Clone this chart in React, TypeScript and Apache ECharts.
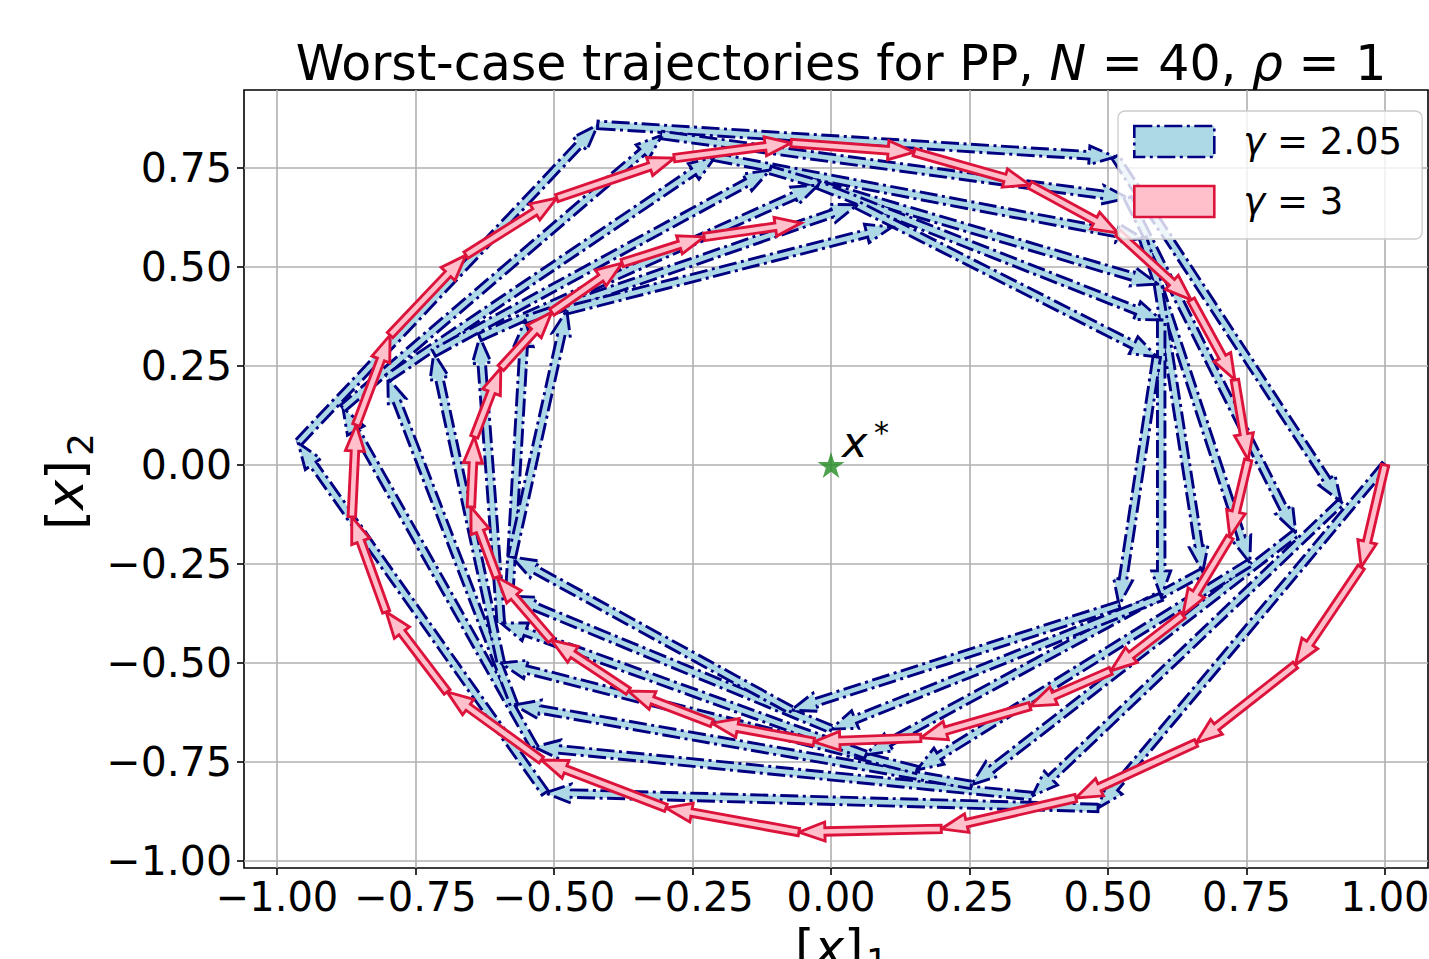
import React, { useEffect, useRef } from "react";
import * as echarts from "echarts";

// Worst-case PP iterates, gamma = 2.05 (x0 ... x40)
const blueX = [1.0, 0.482, -0.516, -0.962, -0.421, 0.513, 0.921, 0.363, -0.536, -0.881, -0.305, 0.536, 0.839, 0.253, -0.572, -0.8, -0.209, 0.563, 0.756, 0.155, -0.596, -0.717, -0.11, 0.59, 0.671, 0.063, -0.596, -0.634, -0.023, 0.596, 0.596, 0.0, -0.581, -0.552, 0.047, 0.588, 0.52, -0.072, -0.576, -0.477, 0.11];
const blueY = [0.0, -0.866, -0.828, 0.056, 0.859, 0.778, -0.093, -0.836, -0.712, 0.144, 0.833, 0.674, -0.172, -0.808, -0.606, 0.22, 0.778, 0.573, -0.247, -0.77, -0.5, 0.283, 0.745, 0.457, -0.27, -0.732, -0.399, 0.323, 0.707, 0.366, -0.333, -0.667, -0.331, 0.366, 0.657, 0.273, -0.354, -0.619, -0.232, 0.391, 0.601];

// Worst-case PP iterates, gamma = 3 (x0 ... x40)
const redX = [1.0, 0.957, 0.838, 0.659, 0.442, 0.199, -0.058, -0.298, -0.523, -0.693, -0.803, -0.865, -0.857, -0.796, -0.659, -0.495, -0.283, -0.072, 0.15, 0.359, 0.518, 0.65, 0.729, 0.753, 0.72, 0.635, 0.505, 0.359, 0.162, -0.031, -0.215, -0.366, -0.505, -0.603, -0.65, -0.644, -0.596, -0.504, -0.377, -0.229, -0.054];
const redY = [0.0, -0.258, -0.505, -0.702, -0.841, -0.919, -0.927, -0.866, -0.745, -0.573, -0.371, -0.131, 0.101, 0.328, 0.53, 0.674, 0.775, 0.813, 0.79, 0.707, 0.586, 0.417, 0.215, 0.013, -0.182, -0.379, -0.52, -0.609, -0.689, -0.699, -0.652, -0.571, -0.442, -0.283, -0.106, 0.071, 0.245, 0.386, 0.51, 0.576, 0.611];

const xTickValues = [-1, -0.75, -0.5, -0.25, 0, 0.25, 0.5, 0.75, 1];
const yTickValues = [-1, -0.75, -0.5, -0.25, 0, 0.25, 0.5, 0.75];
const seriesNames = ["γ = 2.05", "γ = 3"];
const optimum = [[0, 0]];

const X_MIN = -1.0596;
const X_MAX = 1.0776;
const Y_MIN = -1.0177;
const Y_MAX = 0.947;

const FONT = "DejaVu Sans";
const LIGHTBLUE = "#ADD8E6";
const NAVY = "#000080";
const PINK = "#FFC0CB";
const CRIMSON = "#DC143C";
const DASHDOT = [18, 4.5, 3, 4.5];

const SHAFT = 7.5;
const HEAD_W = 19;
const HEAD_L = 26;
const EDGE_W = 2.9;

const fmt = (v: number) => (v < 0 ? "\u2212" : "") + Math.abs(v).toFixed(2);

function toSegments(xs: number[], ys: number[]) {
  const out: number[][] = [];
  for (let i = 0; i < xs.length - 1; i++) out.push([xs[i], ys[i], xs[i + 1], ys[i + 1]]);
  return out;
}

function makeArrowRenderer(fill: string, stroke: string, dash: number[] | null) {
  return (params: any, api: any) => {
    const p0 = api.coord([api.value(0), api.value(1)]);
    const p1 = api.coord([api.value(2), api.value(3)]);
    const dx = p1[0] - p0[0];
    const dy = p1[1] - p0[1];
    const L = Math.hypot(dx, dy) || 1;
    const ux = dx / L, uy = dy / L;
    const nx = -uy, ny = ux;
    const hl = Math.min(HEAD_L, L);
    const b = L - hl;
    const pt = (a: number, s: number) => [p0[0] + ux * a + nx * s, p0[1] + uy * a + ny * s];
    const points = [
      pt(0, SHAFT / 2),
      pt(b, SHAFT / 2),
      pt(b, HEAD_W / 2),
      [p1[0], p1[1]],
      pt(b, -HEAD_W / 2),
      pt(b, -SHAFT / 2),
      pt(0, -SHAFT / 2),
    ];
    const style: any = { fill, stroke, lineWidth: EDGE_W, lineJoin: "miter" };
    if (dash) style.lineDash = dash;
    return { type: "polygon", shape: { points }, style };
  };
}

const starPath =
  "path://M0,-100L22.45,-30.9L95.1,-30.9L36.33,11.8L58.78,80.9L0,38.2L-58.78,80.9L-36.33,11.8L-95.1,-30.9L-22.45,-30.9Z";

export default function App() {
  const ref = useRef<HTMLDivElement>(null);

  useEffect(() => {
    if (!ref.current) return;
    const chart = echarts.init(ref.current, null, { renderer: "svg" });

    const option: any = {
      animation: false,
      backgroundColor: "#ffffff",
      grid: {
        left: 244,
        top: 90,
        width: 1184,
        height: 778,
        show: true,
        borderColor: "#000000",
        borderWidth: 1.6,
        backgroundColor: "transparent",
        containLabel: false,
        outerBoundsMode: "none",
      },
      xAxis: {
        type: "value",
        min: X_MIN,
        max: X_MAX,
        axisLine: { show: false, onZero: false },
        axisTick: { show: true, customValues: xTickValues, length: 7, lineStyle: { color: "#000", width: 1.6 } },
        axisLabel: { customValues: xTickValues, formatter: fmt, fontFamily: FONT, fontSize: 40, color: "#000", margin: 9, hideOverlap: false },
        splitLine: { show: true, lineStyle: { color: "#b0b0b0", width: 1.6 } },
      },
      yAxis: {
        type: "value",
        min: Y_MIN,
        max: Y_MAX,
        axisLine: { show: false, onZero: false },
        axisTick: { show: true, customValues: yTickValues, length: 7, lineStyle: { color: "#000", width: 1.6 } },
        axisLabel: { customValues: yTickValues, formatter: fmt, fontFamily: FONT, fontSize: 41, color: "#000", margin: 12 },
        splitLine: { show: true, lineStyle: { color: "#b0b0b0", width: 1.6 } },
      },
      legend: {
        orient: "vertical",
        left: 1118,
        top: 111,
        padding: [8, 20, 15, 15],
        itemGap: 15,
        itemWidth: 80,
        itemHeight: 31,
        selectedMode: false,
        backgroundColor: "rgba(255,255,255,0.8)",
        borderColor: "#cccccc",
        borderWidth: 1.3,
        borderRadius: 7,
        data: [
          { name: seriesNames[0], icon: "rect", itemStyle: { color: LIGHTBLUE, borderColor: NAVY, borderWidth: 2.6, borderType: DASHDOT } },
          { name: seriesNames[1], icon: "rect", itemStyle: { color: PINK, borderColor: CRIMSON, borderWidth: 2.6 } },
        ],
        formatter: (name: string) => "{g|γ}{t|" + name.slice(1) + "}",
        textStyle: {
          fontFamily: FONT,
          fontSize: 37,
          color: "#000",
          lineHeight: 45,
          rich: {
            g: { fontFamily: FONT, fontSize: 37, fontStyle: "italic", padding: [0, 0, 0, 24], lineHeight: 45, color: "#000" },
            t: { fontFamily: FONT, fontSize: 37, lineHeight: 45, color: "#000" },
          },
        },
      },
      series: [
        {
          type: "custom",
          name: seriesNames[0],
          coordinateSystem: "cartesian2d",
          data: toSegments(blueX, blueY),
          encode: { x: [0, 2], y: [1, 3] },
          renderItem: makeArrowRenderer(LIGHTBLUE, NAVY, DASHDOT),
          itemStyle: { color: LIGHTBLUE, borderColor: NAVY },
          clip: true,
          silent: true,
          z: 2,
        },
        {
          type: "custom",
          name: seriesNames[1],
          coordinateSystem: "cartesian2d",
          data: toSegments(redX, redY),
          encode: { x: [0, 2], y: [1, 3] },
          renderItem: makeArrowRenderer(PINK, CRIMSON, null),
          itemStyle: { color: PINK, borderColor: CRIMSON },
          clip: true,
          silent: true,
          z: 3,
        },
        {
          type: "scatter",
          name: "x*",
          data: optimum,
          symbol: starPath,
          symbolSize: [27, 26],
          itemStyle: { color: "#228B22" },
          silent: true,
          z: 5,
        },
      ],
    };

    chart.setOption(option);

    const p = chart.convertToPixel({ gridIndex: 0 }, optimum[0]) as number[];

    chart.setOption({
      graphic: [
        {
          type: "text",
          x: 841,
          y: 63,
          style: {
            text: "Worst-case trajectories for PP, {i|N} = 40, {i|ρ} = 1",
            fontFamily: FONT,
            fontSize: 49,
            fill: "#000",
            align: "center",
            verticalAlign: "middle",
            rich: {
              i: { fontFamily: FONT, fontSize: 49, fontStyle: "italic", fill: "#000" },
            },
          },
        },
        {
          type: "text",
          x: p[0] + 11,
          y: p[1] - 23,
          style: { text: "x", fontFamily: FONT, fontSize: 43, fontStyle: "italic", fill: "#000", align: "left", verticalAlign: "middle" },
        },
        {
          type: "text",
          x: p[0] + 43,
          y: p[1] - 33,
          style: { text: "*", fontFamily: FONT, fontSize: 30, fill: "#000", align: "left", verticalAlign: "middle" },
        },
        {
          type: "group",
          x: 795,
          y: 965,
          children: [
            {
              type: "text",
              x: 0,
              y: -17.3,
              style: {
                text: "[{i|x}]",
                fontFamily: FONT,
                fontSize: 50,
                fill: "#000",
                align: "left",
                verticalAlign: "middle",
                rich: { i: { fontFamily: FONT, fontSize: 50, fontStyle: "italic", fill: "#000" } },
              },
            },
            {
              type: "text",
              x: 71,
              y: -3,
              style: { text: "1", fontFamily: FONT, fontSize: 35, fill: "#000", align: "left", verticalAlign: "middle" },
            },
          ],
        },
        {
          type: "group",
          x: 83,
          y: 530,
          rotation: Math.PI / 2,
          children: [
            {
              type: "text",
              x: 0,
              y: -17.3,
              style: {
                text: "[{i|x}]",
                fontFamily: FONT,
                fontSize: 51,
                fill: "#000",
                align: "left",
                verticalAlign: "middle",
                rich: { i: { fontFamily: FONT, fontSize: 51, fontStyle: "italic", fill: "#000" } },
              },
            },
            {
              type: "text",
              x: 74,
              y: -3,
              style: { text: "2", fontFamily: FONT, fontSize: 36, fill: "#000", align: "left", verticalAlign: "middle" },
            },
          ],
        },
      ],
    });

    return () => chart.dispose();
  }, []);

  return <div ref={ref} style={{ position: "absolute", left: 0, top: 0, width: 1429, height: 959 }} />;
}
